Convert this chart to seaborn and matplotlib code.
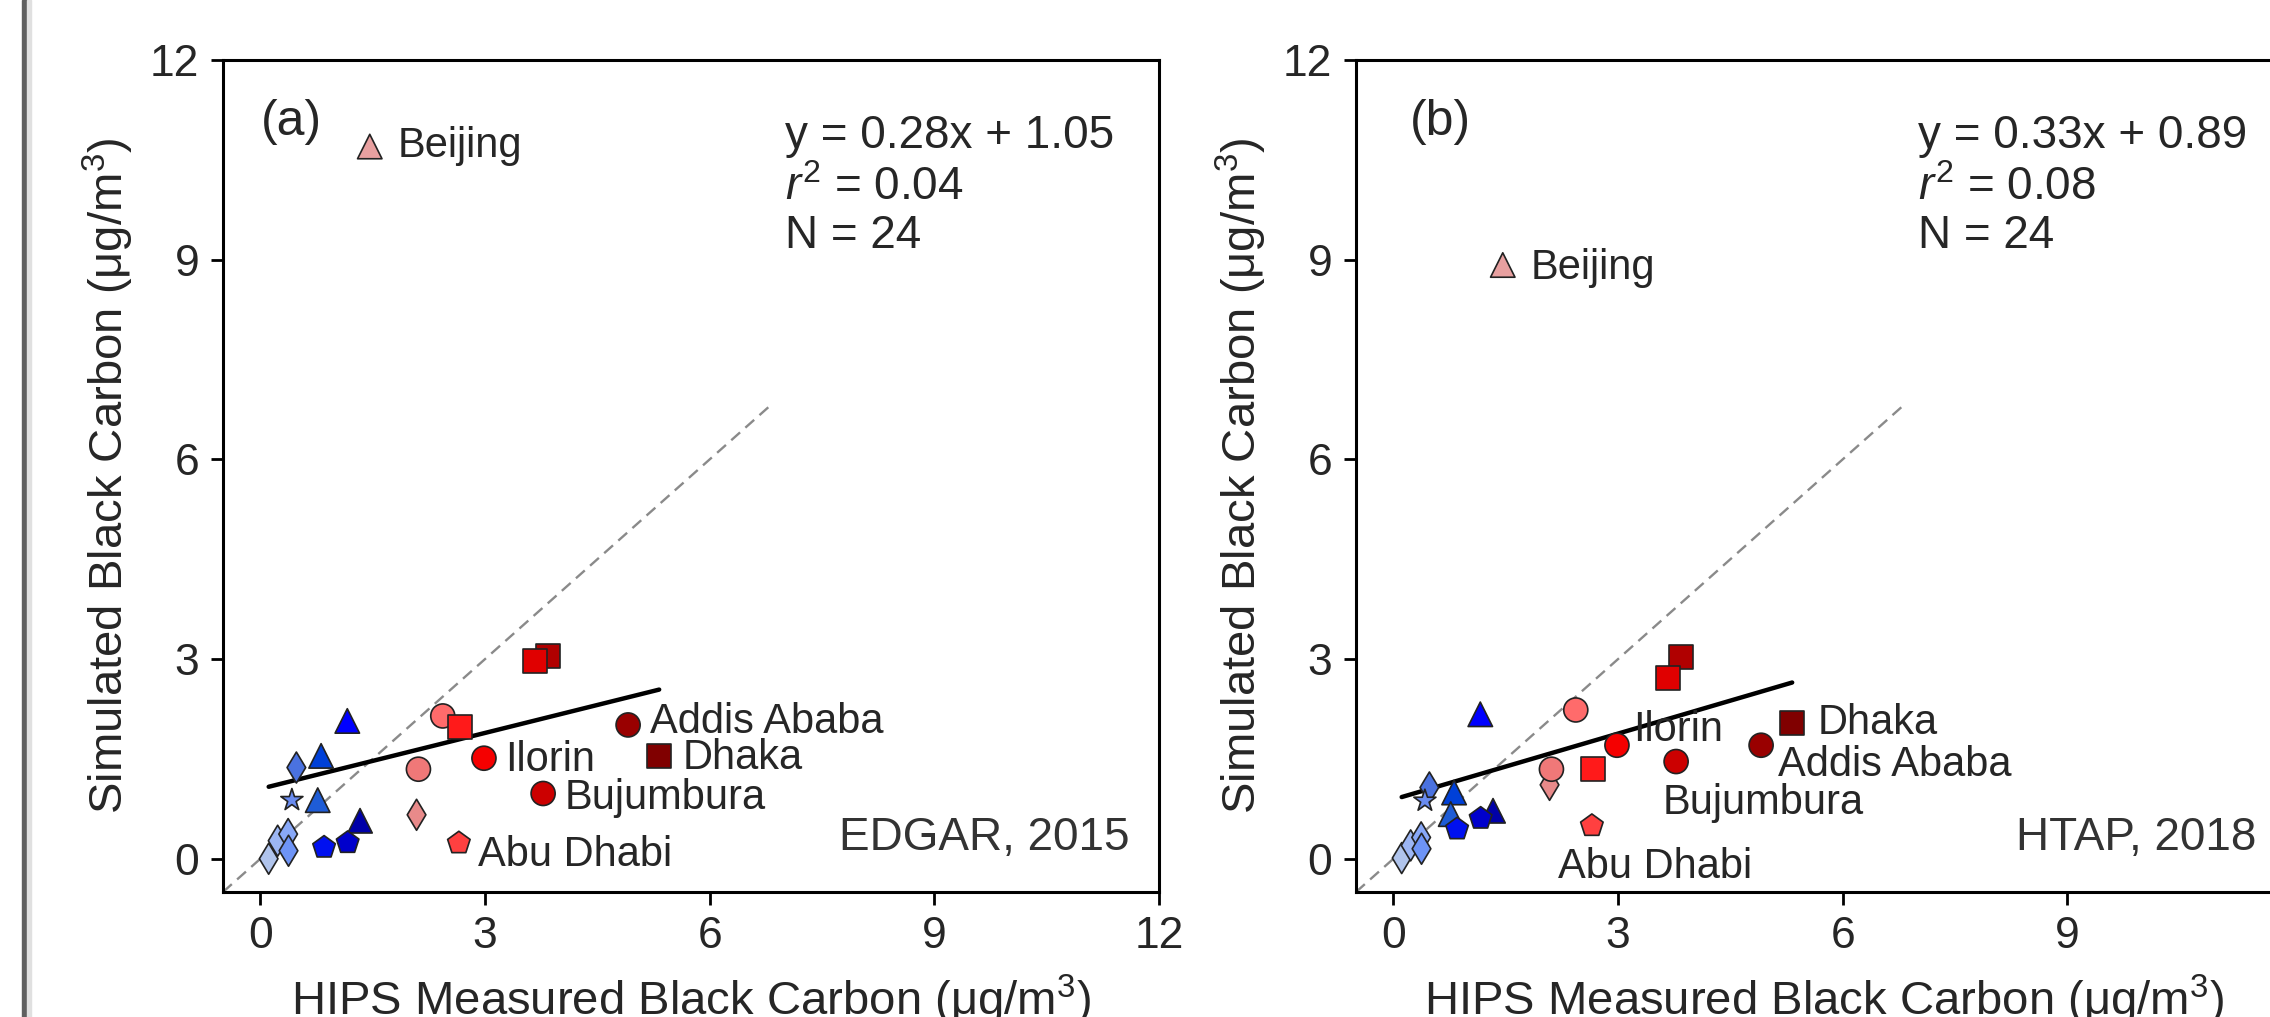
import matplotlib
matplotlib.use("Agg")
import matplotlib.pyplot as plt
from matplotlib.patches import Rectangle
import seaborn as sns
import numpy as np
import pandas as pd

# ---- data ----
sites = ["Beijing", "S02", "S03", "S04", "S05", "S06", "S07", "S08", "S09",
         "S10", "S11", "S12", "S13", "S14", "S15", "S17", "S16", "Abu Dhabi",
         "Ilorin", "S21", "S20", "Bujumbura", "Addis Ababa", "Dhaka"]
markers = ["^", "^", "^", "d", "*", "^", "^", "p", "p",
           "d", "d", "d", "d", "o", "s", "d", "o", "p",
           "o", "s", "s", "o", "o", "s"]
colors = ["#E8A0A0", "#0000FF", "#0040D8", "#4A72E0", "#6A8CF0", "#1E5CD6", "#0000A8", "#0010F0", "#0000CC",
          "#B0C4EC", "#9CB6F4", "#88A8F8", "#6E94F6", "#FF6B6B", "#FF1A1A", "#E88A8A", "#F07878", "#FF4040",
          "#F50000", "#B00000", "#E00000", "#CC0000", "#990000", "#800000"]
hips = [1.46, 1.16, 0.81, 0.48, 0.42, 0.765, 1.33, 0.85, 1.165,
        0.11, 0.23, 0.37, 0.375, 2.435, 2.665, 2.085, 2.11, 2.65,
        2.985, 3.835, 3.665, 3.775, 4.91, 5.325]
sim_edgar = [10.70, 2.07, 1.545, 1.37, 0.88, 0.88, 0.57, 0.17, 0.24,
             0.0, 0.27, 0.37, 0.12, 2.145, 1.98, 0.66, 1.345, 0.235,
             1.51, 3.045, 2.97, 0.98, 2.01, 1.545]
sim_htap = [8.92, 2.17, 0.995, 1.07, 0.87, 0.67, 0.72, 0.445, 0.605,
            0.01, 0.20, 0.32, 0.15, 2.235, 1.355, 1.11, 1.345, 0.495,
            1.705, 3.03, 2.72, 1.46, 1.705, 2.035]

panels = ["(a)", "(b)"]
inventories = ["EDGAR, 2015", "HTAP, 2018"]
slopes = [0.28, 0.33]
intercepts = [1.05, 0.89]
r2 = ["0.04", "0.08"]
n_sites = [24, 24]
one_to_one = [-0.5, 6.8]

# label offsets (data units, baseline) for the named cities
label_offsets = [
    {"Beijing": (0.37, -0.155), "Addis Ababa": (0.29, -0.12), "Dhaka": (0.315, -0.195),
     "Ilorin": (0.285, -0.19), "Bujumbura": (0.285, -0.23), "Abu Dhabi": (0.25, -0.34)},
    {"Beijing": (0.37, -0.205), "Ilorin": (0.215, 0.065), "Bujumbura": (-0.185, -0.785),
     "Abu Dhabi": (-0.45, -0.78), "Dhaka": (0.345, -0.16), "Addis Ababa": (0.22, -0.46)},
]

df = pd.DataFrame({"site": sites, "hips": hips, "edgar": sim_edgar, "htap": sim_htap})
palette = dict(zip(sites, colors))
marker_map = dict(zip(sites, markers))
area = {"^": 310, "o": 300, "s": 300, "d": 250, "*": 280, "p": 290}
size_map = {s: area[m] for s, m in zip(sites, markers)}

sns.set_style("ticks")
plt.rcParams["font.family"] = ["Liberation Sans", "DejaVu Sans"]
plt.rcParams["mathtext.fontset"] = "custom"
plt.rcParams["mathtext.rm"] = "Liberation Sans"
plt.rcParams["mathtext.it"] = "Liberation Sans:italic"

fig = plt.figure(figsize=(22.7, 10.17), dpi=100)
fig.patches.append(Rectangle((22 / 2270, 0), 5 / 2270, 1, transform=fig.transFigure,
                             color="#5f5f5f", zorder=0))
fig.patches.append(Rectangle((27 / 2270, 0), 4 / 2270, 1, transform=fig.transFigure,
                             color="#e0e0e0", zorder=0))

ax_w, ax_h, ax_b = 936 / 2270, 832 / 1017, 125 / 1017
axes = [fig.add_axes([223 / 2270, ax_b, ax_w, ax_h]),
        fig.add_axes([1356 / 2270, ax_b, ax_w, ax_h])]

for i, (ax, col) in enumerate(zip(axes, ["edgar", "htap"])):
    ax.plot(one_to_one, one_to_one, ls=(0, (5, 3)), color="#8a8a8a", lw=1.7, zorder=1)
    xs = np.array([min(hips), max(hips)])
    ax.plot(xs, slopes[i] * xs + intercepts[i], color="black", lw=3.2, zorder=2)

    sns.scatterplot(data=df, x="hips", y=col, hue="site", style="site", size="site",
                    palette=palette, markers=marker_map, sizes=size_map,
                    edgecolor="#222222", linewidth=1.2, legend=False, ax=ax, zorder=3)

    for name, (dx, dy) in label_offsets[i].items():
        row = df[df.site == name].iloc[0]
        ax.text(row.hips + dx, row[col] + dy, name, fontsize=30, ha="left", va="baseline", zorder=4)

    ax.text(0.04 if i == 0 else 0.058, 0.925, panels[i], transform=ax.transAxes,
            fontsize=36, ha="left", va="center")
    ax.text(0.60, 0.894, f"y = {slopes[i]:.2f}x + {intercepts[i]:.2f}", transform=ax.transAxes,
            fontsize=33, ha="left", va="baseline")
    ax.text(0.60, 0.832, f"$r^2$ = {r2[i]}", transform=ax.transAxes,
            fontsize=33, ha="left", va="baseline")
    ax.text(0.60, 0.774, f"N = {n_sites[i]}", transform=ax.transAxes,
            fontsize=33, ha="left", va="baseline")
    ax.text(0.969 if i == 0 else 0.962, 0.05, inventories[i], transform=ax.transAxes, fontsize=33,
            color="#333333", ha="right", va="baseline")

    ax.set_xlim(-0.5, 12)
    ax.set_ylim(-0.5, 12)
    ax.set_xticks([0, 3, 6, 9, 12])
    ax.set_yticks([0, 3, 6, 9, 12])
    ax.tick_params(axis="both", labelsize=32, length=9, width=2, color="black")
    ax.tick_params(axis="x", pad=8)
    ax.tick_params(axis="y", pad=8)
    for sp in ax.spines.values():
        sp.set_linewidth(2.2)
        sp.set_color("black")
    ax.set_xlabel("HIPS Measured Black Carbon (μg/m$^3$)", fontsize=34, labelpad=12)
    ax.set_ylabel("Simulated Black Carbon (μg/m$^3$)", fontsize=34, labelpad=10)

fig.savefig("out.png", dpi=100)
